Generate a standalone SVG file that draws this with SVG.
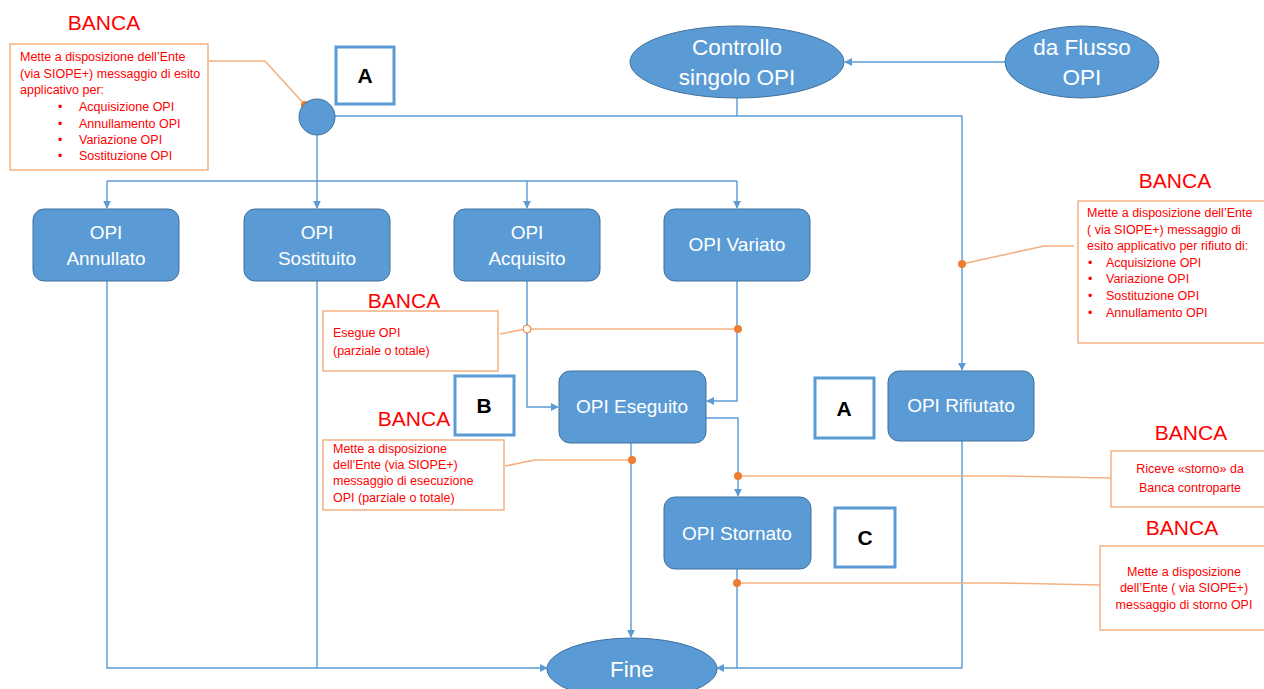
<svg xmlns="http://www.w3.org/2000/svg" width="1264" height="689" viewBox="0 0 1264 689">
<defs>
<marker id="arr" viewBox="0 0 10 10" refX="9" refY="5" markerWidth="8" markerHeight="8" markerUnits="userSpaceOnUse" orient="auto">
<path d="M0,0 L10,5 L0,10 z" fill="#5B9BD5"/>
</marker>
<style>
.node{fill:#5B9BD5;stroke:#41719C;stroke-width:1}
.nt{font-family:"Liberation Sans",Arial,sans-serif;font-size:19px;fill:#fff;text-anchor:middle}
.big{font-size:22.5px}
.con{fill:none;stroke:#5B9BD5;stroke-width:1.4}
.arr{marker-end:url(#arr)}
.ol{fill:none;stroke:#F4B183;stroke-width:1.6}
.dot{fill:#ED7D31}
.cb{fill:#fff;stroke:#F4B183;stroke-width:1.5}
.ct{font-family:"Liberation Sans",Arial,sans-serif;font-size:12.5px;fill:#FF0000}
.banca{font-family:"Liberation Sans",Arial,sans-serif;font-size:21px;fill:#FF0000;text-anchor:middle}
.lb{fill:#fff;stroke:#5B9BD5;stroke-width:3}
.lt{font-family:"Liberation Sans",Arial,sans-serif;font-size:21px;font-weight:bold;fill:#000;text-anchor:middle}
</style>
</defs>
<rect width="1264" height="689" fill="#fff"/>

<g id="connectors">
<path class="con" d="M317,135 V181"/>
<path class="con" d="M107,181 H737"/>
<path class="con arr" d="M107,181 V208"/>
<path class="con arr" d="M317,181 V208"/>
<path class="con arr" d="M527,181 V208"/>
<path class="con arr" d="M737,181 V208"/>
<path class="con arr" d="M335,116 H962 V370"/>
<path class="con" d="M737,98 V116"/>
<path class="con arr" d="M1005,62 H845"/>
<path class="con arr" d="M527,281 V407 H558"/>
<path class="con arr" d="M737,281 V401 H707"/>
<path class="con arr" d="M706,418 H738 V496"/>
<path class="con arr" d="M631,443 V637"/>
<path class="con arr" d="M107,281 V668 H547"/>
<path class="con" d="M317,281 V668"/>
<path class="con arr" d="M737,569 V668 H717"/>
<path class="con" d="M962,441 V668 H737"/>
<!-- orange leaders -->
<path class="ol" d="M209,61 H265 L305,105"/>
<circle class="dot" cx="305" cy="105" r="4"/>
<path class="ol" d="M500,334 L523,329.5"/>
<path class="ol" d="M531,329 H738"/>
<circle cx="527" cy="329" r="4" fill="#fff" stroke="#ED7D31" stroke-width="1"/>
<circle class="dot" cx="738" cy="329" r="4"/>
<path class="ol" d="M505,466 L535,460 H632"/>
<circle class="dot" cx="632" cy="460" r="4"/>
<path class="ol" d="M962,264 L1044,246 H1074"/>
<circle class="dot" cx="962" cy="264" r="4"/>
<path class="ol" d="M738,476 H1000 L1111,478"/>
<circle class="dot" cx="738" cy="476" r="4"/>
<path class="ol" d="M737,583 H1000 L1100,585"/>
<circle class="dot" cx="737" cy="583" r="4"/>
</g>

<g id="start">
<circle class="node" cx="317" cy="117" r="18"/>
</g>

<g id="controllo">
<ellipse class="node" cx="737" cy="62" rx="107" ry="36"/>
<text class="nt big" x="737" y="55">Controllo</text>
<text class="nt big" x="737" y="85">singolo OPI</text>
</g>

<g id="flusso">
<ellipse class="node" cx="1082" cy="62" rx="77" ry="36"/>
<text class="nt big" x="1082" y="55">da Flusso</text>
<text class="nt big" x="1082" y="85">OPI</text>
</g>

<g id="annullato">
<rect class="node" x="33" y="209" width="146" height="72" rx="11"/>
<text class="nt" x="106" y="239">OPI</text>
<text class="nt" x="106" y="265">Annullato</text>
</g>
<g id="sostituito">
<rect class="node" x="244" y="209" width="146" height="72" rx="11"/>
<text class="nt" x="317" y="239">OPI</text>
<text class="nt" x="317" y="265">Sostituito</text>
</g>
<g id="acquisito">
<rect class="node" x="454" y="209" width="146" height="72" rx="11"/>
<text class="nt" x="527" y="239">OPI</text>
<text class="nt" x="527" y="265">Acquisito</text>
</g>
<g id="variato">
<rect class="node" x="664" y="209" width="146" height="72" rx="11"/>
<text class="nt" x="737" y="251">OPI Variato</text>
</g>
<g id="eseguito">
<rect class="node" x="559" y="371" width="147" height="72" rx="11"/>
<text class="nt" x="632" y="413">OPI Eseguito</text>
</g>
<g id="rifiutato">
<rect class="node" x="888" y="371" width="146" height="70" rx="11"/>
<text class="nt" x="961" y="412">OPI Rifiutato</text>
</g>
<g id="stornato">
<rect class="node" x="664" y="497" width="147" height="72" rx="11"/>
<text class="nt" x="737" y="540">OPI Stornato</text>
</g>
<g id="fine">
<ellipse class="node" cx="632" cy="669" rx="85" ry="31"/>
<text class="nt big" x="632" y="677">Fine</text>
</g>

<g id="labelA1">
<rect class="lb" x="336" y="47" width="58" height="57"/>
<text class="lt" x="365" y="83">A</text>
</g>
<g id="labelB">
<rect class="lb" x="455" y="376" width="59" height="59"/>
<text class="lt" x="484" y="413">B</text>
</g>
<g id="labelA2">
<rect class="lb" x="815" y="378" width="59" height="60"/>
<text class="lt" x="844" y="416">A</text>
</g>
<g id="labelC">
<rect class="lb" x="835" y="508" width="60" height="59"/>
<text class="lt" x="865" y="545">C</text>
</g>

<g id="note1">
<text class="banca" x="104" y="30">BANCA</text>
<rect class="cb" x="10" y="44" width="198" height="126"/>
<text class="ct" x="20" y="61">Mette a disposizione  dell’Ente</text>
<text class="ct" x="20" y="78">(via SIOPE+) messaggio di esito</text>
<text class="ct" x="20" y="94">applicativo per:</text>
<text class="ct" x="58" y="111">•</text><text class="ct" x="79" y="111">Acquisizione OPI</text>
<text class="ct" x="58" y="128">•</text><text class="ct" x="79" y="128">Annullamento  OPI</text>
<text class="ct" x="58" y="144">•</text><text class="ct" x="79" y="144">Variazione OPI</text>
<text class="ct" x="58" y="160">•</text><text class="ct" x="79" y="160">Sostituzione OPI</text>
</g>

<g id="note2">
<text class="banca" x="1175" y="188">BANCA</text>
<rect class="cb" x="1078" y="201" width="190" height="142"/>
<text class="ct" x="1087" y="217">Mette a disposizione  dell’Ente</text>
<text class="ct" x="1087" y="234">( via SIOPE+) messaggio di</text>
<text class="ct" x="1087" y="250">esito applicativo  per rifiuto di:</text>
<text class="ct" x="1088" y="267">•</text><text class="ct" x="1106" y="267">Acquisizione OPI</text>
<text class="ct" x="1088" y="283">•</text><text class="ct" x="1106" y="283">Variazione OPI</text>
<text class="ct" x="1088" y="300">•</text><text class="ct" x="1106" y="300">Sostituzione OPI</text>
<text class="ct" x="1088" y="317">•</text><text class="ct" x="1106" y="317">Annullamento OPI</text>
</g>

<g id="note3">
<text class="banca" x="404" y="308">BANCA</text>
<rect class="cb" x="323" y="311" width="175" height="60"/>
<text class="ct" x="333" y="337">Esegue OPI</text>
<text class="ct" x="333" y="355">(parziale o totale)</text>
</g>

<g id="note4">
<text class="banca" x="414" y="426">BANCA</text>
<rect class="cb" x="323" y="440" width="181" height="70"/>
<text class="ct" x="333" y="453">Mette a disposizione</text>
<text class="ct" x="333" y="469">dell’Ente (via  SIOPE+)</text>
<text class="ct" x="333" y="485">messaggio di esecuzione</text>
<text class="ct" x="333" y="502">OPI (parziale  o totale)</text>
</g>

<g id="note5">
<text class="banca" x="1191" y="440">BANCA</text>
<rect class="cb" x="1111" y="451" width="157" height="56"/>
<text class="ct" x="1190" y="473" text-anchor="middle">Riceve «storno» da</text>
<text class="ct" x="1190" y="492" text-anchor="middle">Banca controparte</text>
</g>

<g id="note6">
<text class="banca" x="1182" y="535">BANCA</text>
<rect class="cb" x="1100" y="546" width="168" height="84"/>
<text class="ct" x="1184" y="576" text-anchor="middle">Mette a disposizione</text>
<text class="ct" x="1184" y="592" text-anchor="middle">dell’Ente ( via SIOPE+)</text>
<text class="ct" x="1184" y="609" text-anchor="middle">messaggio di storno OPI</text>
</g>
</svg>
